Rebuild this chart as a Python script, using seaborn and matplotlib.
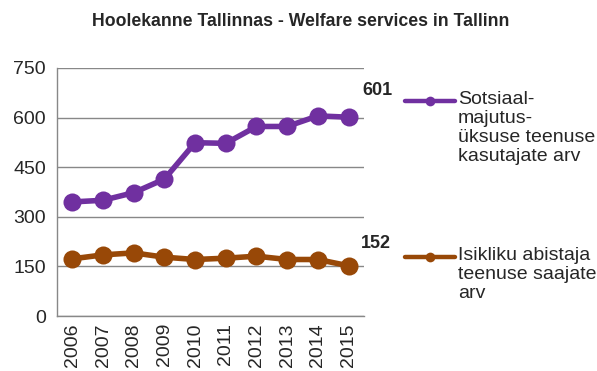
import matplotlib
matplotlib.use("Agg")
import matplotlib.pyplot as plt
from matplotlib.lines import Line2D
import numpy as np
import pandas as pd
import seaborn as sns

years = ["2006", "2007", "2008", "2009", "2010", "2011", "2012", "2013", "2014", "2015"]
housing_users = [345, 350, 373, 414, 524, 522, 573, 573, 605, 601]
assistant_users = [173, 185, 191, 178, 171, 175, 181, 171, 171, 152]
series_names = [
    "Sotsiaal-\nmajutus-\nüksuse teenuse\nkasutajate arv",
    "Isikliku abistaja\nteenuse saajate\narv",
]
colors = ["#7030A0", "#984807"]
title = "Hoolekanne Tallinnas - Welfare services in Tallinn"
y_ticks = [0, 150, 300, 450, 600, 750]

sns.set_style("white")
plt.rcParams["font.family"] = ["Liberation Sans", "DejaVu Sans"]

df = pd.DataFrame({
    "pos": list(range(len(years))) * 2,
    "value": housing_users + assistant_users,
    "series": [series_names[0]] * len(years) + [series_names[1]] * len(years),
})

fig = plt.figure(figsize=(5.97, 3.71), dpi=100)
ax = fig.add_axes([0.0955, 0.148, 0.514, 0.669])

sns.lineplot(data=df, x="pos", y="value", hue="series", palette=colors,
             marker="o", markersize=13, linewidth=4, markeredgewidth=0,
             ax=ax, legend=False, zorder=3)

ax.set_xlim(-0.5, len(years) - 0.5)
ax.set_ylim(0, 750)
ax.set_yticks(y_ticks)
ax.set_yticklabels([str(t) for t in y_ticks], fontsize=14)
ax.set_xticks(range(len(years)))
ax.set_xticklabels(years, rotation=90, fontsize=14)
ax.tick_params(axis="x", which="major", length=0, pad=5)
ax.set_xticks(np.arange(-0.5, len(years), 1.0), minor=True)
ax.tick_params(axis="x", which="minor", length=5, color="#888888", width=1, direction="out")
ax.tick_params(axis="y", length=5, color="#888888", width=1, direction="out", pad=3)
ax.set_xlabel("")
ax.set_ylabel("")
ax.grid(axis="y", color="#888888", linewidth=1)
ax.grid(axis="x", visible=False)
for side in ["top", "right"]:
    ax.spines[side].set_visible(False)
for side in ["left", "bottom"]:
    ax.spines[side].set_color("#888888")
    ax.spines[side].set_linewidth(1)

ax.annotate(str(housing_users[-1]), xy=(len(years) - 1, housing_users[-1]),
            xytext=(21, 19), textcoords="offset points", ha="center", va="center",
            fontsize=13, fontweight="bold")
ax.annotate(str(assistant_users[-1]), xy=(len(years) - 1, assistant_users[-1]),
            xytext=(20, 16), textcoords="offset points", ha="center", va="center",
            fontsize=13, fontweight="bold")

fig.text(0.503, 0.941, title, ha="center", va="center", fontsize=12.7, fontweight="bold")

# legend drawn beside the plot area
W, H = 597, 371
for name, color, y in zip(series_names, colors, [101, 257]):
    yf = 1 - y / H
    fig.add_artist(Line2D([405 / W, 455 / W], [yf, yf], color=color, linewidth=3.2,
                          transform=fig.transFigure))
    fig.add_artist(Line2D([430 / W], [yf], color=color, marker="o", markersize=7,
                          markeredgewidth=0, transform=fig.transFigure))
    fig.text(458 / W, 1 - (y - 10) / H, name, ha="left", va="top", fontsize=14,
             linespacing=1.15)

fig.savefig("out.png", dpi=100)
